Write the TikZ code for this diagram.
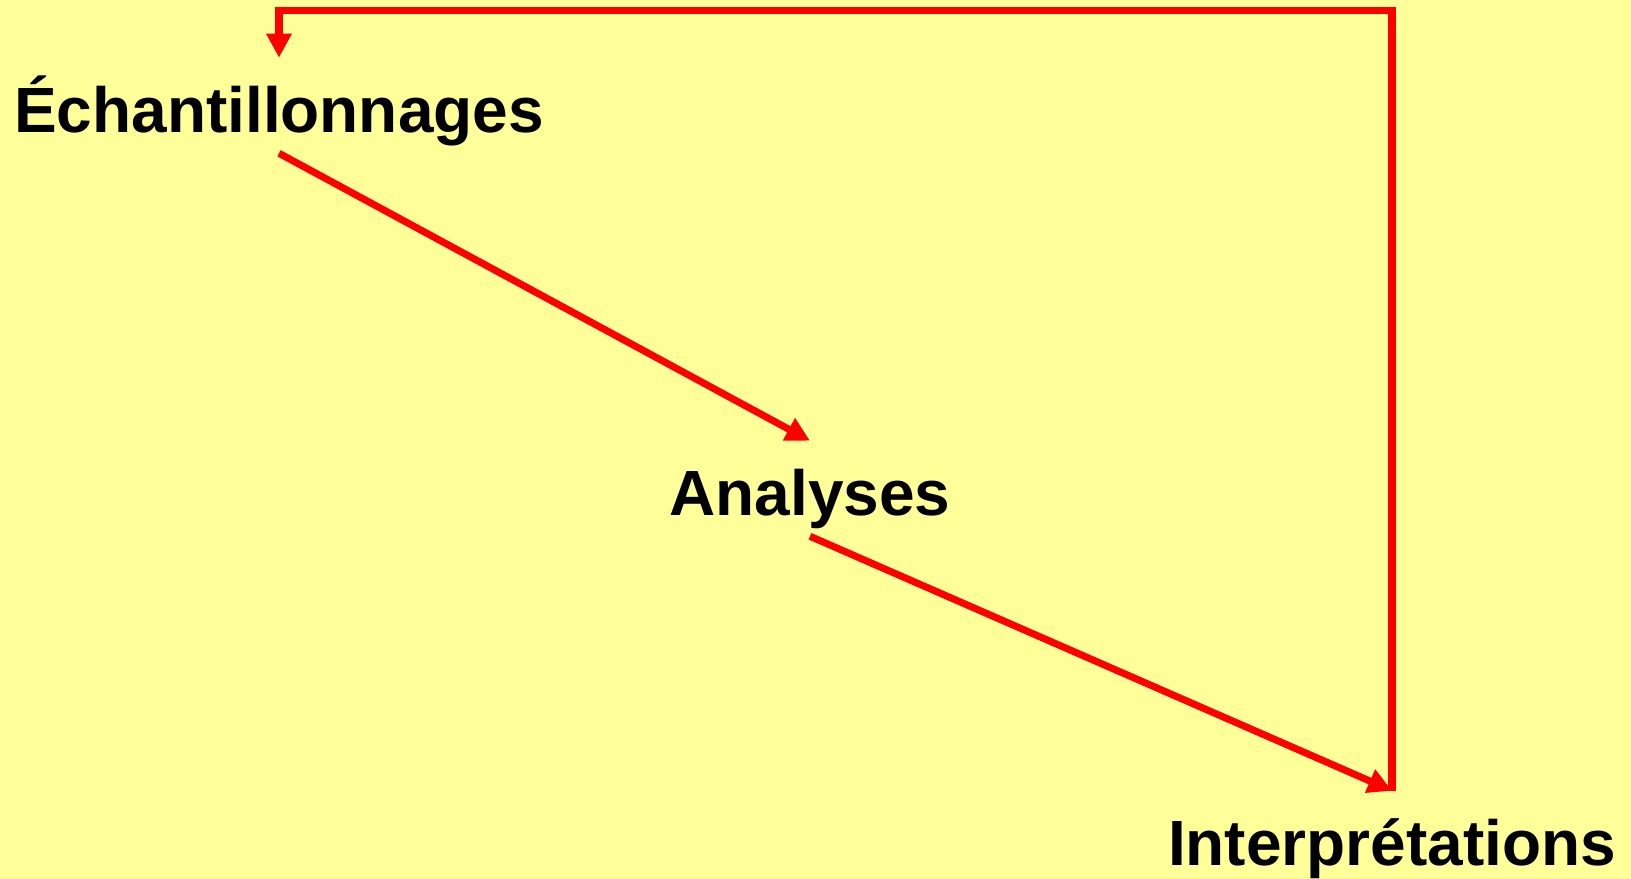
\documentclass[tikz,border=0pt]{standalone}
\usepackage{fontspec}
\setmainfont{Liberation Sans}
\usetikzlibrary{arrows.meta,positioning,calc}
\definecolor{PaleYellow}{HTML}{FFFF99}
\definecolor{LoopRed}{HTML}{FF0000}

\begin{document}
\begin{tikzpicture}[
  stage/.style={font=\fontsize{45.5}{54}\selectfont\bfseries, anchor=base, text height=1.5cm, text depth=0.125cm, inner ysep=0.375cm, inner xsep=0pt},
  flow/.style={draw=LoopRed, line width=5pt, -{Triangle[length=0.6cm,width=0.6cm]}}
]
\fill[PaleYellow] (0,0) rectangle (40.775,21.975);
\useasboundingbox (0,0) rectangle (40.775,21.975);
\node[stage] (ech) at (6.975,18.65) {Échantillonnages};
\node[stage] (ana) at (20.25,9.075) {Analyses};
\node[stage] (int) at (34.8,0.325) {Interprétations};
\coordinate (top) at (34.8,21.7);
\draw[flow] (ech.south) -- (ana.north);
\draw[flow] (ana.south) -- (int.north);
\draw[flow] (int.north) -- (top) -| (ech.north);
\end{tikzpicture}
\end{document}
